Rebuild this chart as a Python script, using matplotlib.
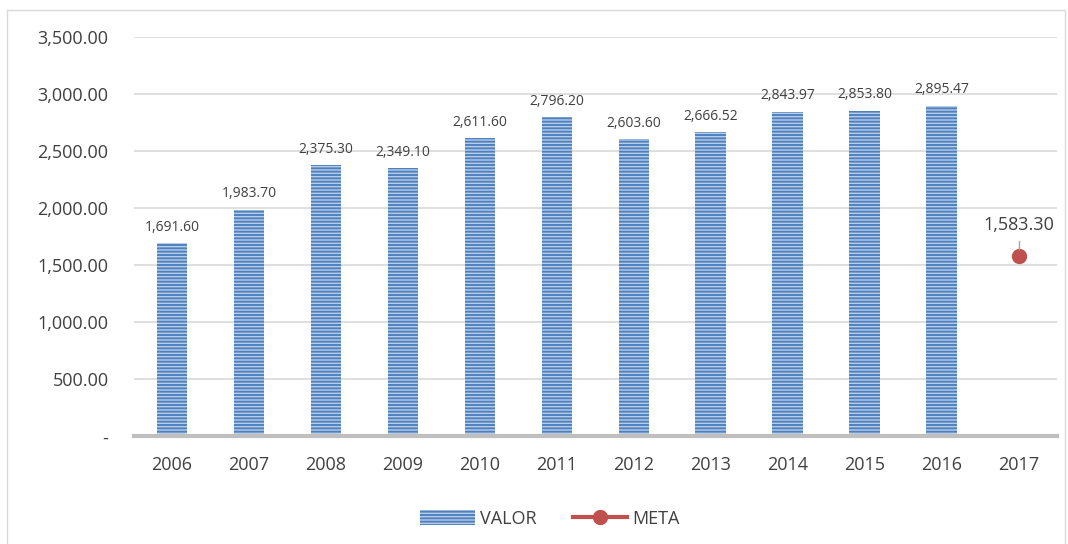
import matplotlib.pyplot as plt
from matplotlib.patches import Rectangle
from matplotlib.ticker import FuncFormatter

plt.rcParams['font.family'] = ['Open Sans', 'DejaVu Sans']
plt.rcParams['hatch.linewidth'] = 1.4

years = ['2006', '2007', '2008', '2009', '2010', '2011', '2012', '2013',
         '2014', '2015', '2016', '2017']
valor = [1691.60, 1983.70, 2375.30, 2349.10, 2611.60, 2796.20, 2603.60,
         2666.52, 2843.97, 2853.80, 2895.47]
meta_year = '2017'
meta_value = 1583.30

fig = plt.figure(figsize=(10.68, 5.44), dpi=100)
fig.patches.append(Rectangle((0.007, -0.01), 0.99, 0.992, transform=fig.transFigure,
                             fill=False, edgecolor='#d9d9d9', linewidth=1.0))
ax = fig.add_axes([0.125, 0.198, 0.865, 0.734])

x = list(range(len(years)))
bars = ax.bar(x[:len(valor)], valor, width=0.4, color='#b8cdea',
              edgecolor='#4f81bd', hatch='-----', linewidth=0, label='VALOR')
for xi, v in zip(x, valor):
    ax.text(xi, v + 75, f'{v:,.2f}', ha='center', va='bottom',
            fontsize=10, color='#404040')

mi = years.index(meta_year)
meta_line, = ax.plot([mi - 0.5, mi, mi + 0.5], [None, meta_value, None], color='#c0504d',
                     marker='o', markersize=10, linewidth=3, label='META')
ax.plot([mi, mi], [meta_value + 60, meta_value + 130], color='#a6a6a6', linewidth=1)
ax.text(mi, meta_value + 190, f'{meta_value:,.2f}', ha='center', va='bottom',
        fontsize=13, color='#404040')

ax.set_xlim(-0.5, len(years) - 0.5)
ax.set_ylim(0, 3500)
ax.set_yticks(range(0, 3501, 500))
ax.yaxis.set_major_formatter(FuncFormatter(lambda v, p: '-' if v == 0 else f'{v:,.2f}'))
ax.set_xticks(x)
ax.set_xticklabels(years)
ax.tick_params(axis='both', length=0, labelsize=13, colors='#404040')
ax.tick_params(axis='x', pad=14)
ax.tick_params(axis='y', pad=18)
ax.grid(axis='y', color='#d9d9d9', linewidth=1.2)
ax.set_axisbelow(True)
for s in ['top', 'right', 'left']:
    ax.spines[s].set_visible(False)
ax.spines['bottom'].set_color('#bfbfbf')
ax.spines['bottom'].set_linewidth(3)

leg = fig.legend([bars, meta_line], ['VALOR', 'META'], loc='lower center',
                 bbox_to_anchor=(0.515, 0.0), ncol=2, frameon=False, fontsize=13,
                 handlelength=3, handleheight=0.9, handletextpad=0.3,
                 columnspacing=2)
for t in leg.get_texts():
    t.set_color('#404040')

fig.savefig('out.png', dpi=100)
